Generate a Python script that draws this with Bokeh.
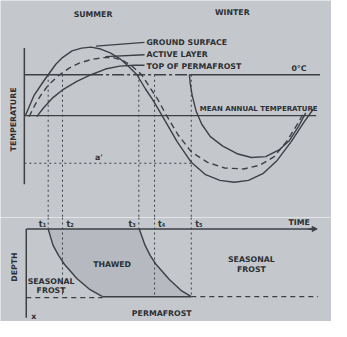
from bokeh.plotting import figure
from bokeh.layouts import column
from bokeh.models import Range1d, Arrow, NormalHead
from bokeh.core.properties import value
from bokeh.embed import file_html
from bokeh.resources import INLINE

# ---------------- data (time units, temperature units, depth units) ----------------
# ground surface temperature (solid)
gs_t = [0.1, 1.0, 1.8, 2.5, 3.3, 4.0, 5.0, 6.0, 7.0, 8.0, 9.0, 10.0, 10.8, 11.8, 12.7,
        13.5, 14.5, 16.0, 17.5, 19.0, 20.5, 22.0, 23.5, 25.0, 26.5, 28.0, 29.3, 30.3]
gs_T = [-4.3, -2.2, -1.0, 0.0, 1.1, 1.8, 2.5, 2.8, 2.9, 2.7, 2.3, 1.7, 1.0, 0.0, -1.5,
        -2.7, -4.4, -7.0, -9.2, -10.5, -11.1, -11.3, -11.1, -10.4, -9.0, -7.0, -5.0, -3.6]
# active layer temperature (dashed)
al_t = [0.5, 1.1, 1.7, 2.5, 3.7, 4.7, 5.7, 7.0, 8.3, 9.3, 10.3, 11.3, 12.3, 13.2, 14.0,
        14.8, 16.1, 17.5, 19.2, 21.0, 23.0, 24.7, 26.2, 27.5, 28.5, 29.3]
al_T = [-4.4, -3.2, -2.2, -1.1, 0.0, 0.7, 1.2, 1.6, 1.8, 1.8, 1.5, 0.9, 0.0, -1.4, -2.6,
        -4.1, -6.3, -8.1, -9.2, -9.8, -9.9, -9.5, -8.6, -7.0, -5.4, -4.0]
# top of permafrost: warming branch, zero curtain, cooling branch
tp_rise_t = [1.3, 2.0, 3.0, 4.0, 5.5, 7.0, 8.5, 10.0, 11.5, 12.6]
tp_rise_T = [-4.4, -3.5, -2.4, -1.6, -0.7, 0.0, 0.6, 0.9, 1.0, 1.0]
zero_curtain_t = [7.0, 17.3]
tp_fall_t = [17.3, 17.4, 17.6, 18.0, 18.6, 19.5, 20.8, 22.3, 23.8, 25.3, 26.7, 27.8, 28.7, 29.5]
tp_fall_T = [0.0, -1.0, -2.2, -3.8, -5.2, -6.5, -7.5, -8.3, -8.7, -8.6, -7.9, -6.9, -5.5, -4.0]

mean_annual_T = -4.3
min_marker_T = -9.3
event_t = [2.5, 4.0, 12.0, 13.65, 17.5]
event_labels = ["t\u2081", "t\u2082", "t\u2083", "t\u2084", "t\u2085"]
event_label_t = [1.9, 4.8, 11.3, 14.4, 18.3]
event_depth_end = [0.0, 7.1, 0.0, 7.1, 7.1]

# thaw (left) and refreeze (right) fronts in the depth panel
thaw_t = [2.5, 3.0, 3.6, 4.2, 5.5, 6.8, 8.2]
thaw_d = [0.0, 1.7, 2.8, 3.7, 5.2, 6.3, 7.1]
freeze_t = [12.05, 12.65, 13.2, 13.8, 15.2, 16.5, 17.5]
freeze_d = [0.0, 1.7, 2.8, 3.7, 5.3, 6.5, 7.1]
permafrost_table_d = 7.1

# ---------------- styles ----------------
BG = "#c4c8cd"
INK = "#3c3f44"
TXT = "#2c2f33"
FILL = "#b6bac0"
FONT = value("DejaVu Sans")
FS = "7.8px"
W = 331
H_TOP = 217
H_BOT = 104
XR = (-2.5, 32.2)


def base(h, yr):
    p = figure(width=W, height=h, x_range=Range1d(*XR), y_range=yr,
               toolbar_location=None, output_backend="svg", min_border=0,
               background_fill_color=BG, border_fill_color=BG, outline_line_color=None)
    p.axis.visible = False
    p.grid.visible = False
    return p


def label(p, x, y, txt, size=FS, align="left", base_="middle", angle=0.0):
    p.text(x=[x], y=[y], text=[txt], text_font=FONT, text_font_size=size,
           text_font_style="bold", text_color=TXT, text_align=align,
           text_baseline=base_, angle=angle)


# ---------------- temperature panel ----------------
top = base(H_TOP, Range1d(-15.0, 7.8))

# axis and reference lines
top.line([0, 0], [2.8, -11.5], line_color=INK, line_width=1.5)
top.line([0, 7.0], [0, 0], line_color=INK, line_width=1.5)
top.line(zero_curtain_t, [0, 0], line_color=INK, line_width=1.5, line_dash="12 3 3 3")
top.line([17.3, 31.0], [0, 0], line_color=INK, line_width=1.5)
top.line([0, 30.6], [mean_annual_T, mean_annual_T], line_color=INK, line_width=1.3)

# dotted construction lines
for t in event_t:
    top.line([t, t], [0, -15.0], line_color=INK, line_width=1, line_dash="2 3")
top.line([0, event_t[-1]], [min_marker_T, min_marker_T], line_color=INK, line_width=1,
         line_dash="2 3")

# curves
top.line(gs_t, gs_T, line_color=INK, line_width=1.4)
top.line(al_t, al_T, line_color=INK, line_width=1.4, line_dash="6 4")
top.line(tp_rise_t, tp_rise_T, line_color=INK, line_width=1.4)
top.line(tp_fall_t, tp_fall_T, line_color=INK, line_width=1.4)

# leaders
top.line([7.5, 12.6], [3.0, 3.4], line_color=INK, line_width=1.3)
top.line([8.5, 12.6], [1.9, 2.1], line_color=INK, line_width=1.3)

label(top, 12.8, 3.4, "GROUND SURFACE")
label(top, 12.8, 2.1, "ACTIVE LAYER")
label(top, 12.8, 0.9, "TOP OF PERMAFROST")
label(top, 28.0, 0.15, "0\u00b0C", base_="bottom")
label(top, 18.4, -3.65, "MEAN ANNUAL TEMPERATURE", size="7px")
label(top, 7.2, 6.3, "SUMMER", align="center")
label(top, 21.8, 6.5, "WINTER", align="center")
label(top, -1.1, -4.7, "TEMPERATURE", align="center", angle=1.5708)
label(top, 7.8, -8.7, "a'", align="center")

# ---------------- depth panel ----------------
bot = base(H_BOT, Range1d(9.7, -1.2))

poly_t = thaw_t + freeze_t[::-1]
poly_d = thaw_d + freeze_d[::-1]
bot.patch(poly_t, poly_d, fill_color=FILL, line_color=None)

for t, dend in zip(event_t, event_depth_end):
    bot.line([t, t], [-1.2, dend], line_color=INK, line_width=1, line_dash="2 3")

bot.line([0.2, 30.2], [0, 0], line_color=INK, line_width=1.5)
bot.add_layout(Arrow(end=NormalHead(size=5, fill_color=INK, line_color=INK),
                     x_start=29.8, y_start=0, x_end=30.7, y_end=0,
                     line_color=INK, line_width=1.5))
bot.line([0.2, 0.2], [0, 9.3], line_color=INK, line_width=1.5)

bot.line(thaw_t, thaw_d, line_color=INK, line_width=1.4)
bot.line(freeze_t, freeze_d, line_color=INK, line_width=1.4)
bot.line([thaw_t[-1], freeze_t[-1]], [permafrost_table_d, permafrost_table_d],
         line_color=INK, line_width=1.6)
bot.line([0.2, thaw_t[-1]], [permafrost_table_d + 0.1, permafrost_table_d + 0.1],
         line_color=INK, line_width=1.2, line_dash="5 4")
bot.line([freeze_t[-1], 30.8], [permafrost_table_d, permafrost_table_d],
         line_color=INK, line_width=1.2, line_dash="5 4")

for x, lab in zip(event_label_t, event_labels):
    label(bot, x, -0.45, lab, size="8px", align="center")

label(bot, 28.8, -0.7, "TIME", align="center")
label(bot, 9.2, 3.7, "THAWED", align="center")
label(bot, 2.8, 5.5, "SEASONAL", align="center")
label(bot, 2.8, 6.5, "FROST", align="center")
label(bot, 23.8, 3.2, "SEASONAL", align="center")
label(bot, 23.8, 4.2, "FROST", align="center")
label(bot, 14.4, 8.9, "PERMAFROST", align="center")
label(bot, -1.0, 4.0, "DEPTH", align="center", angle=1.5708)
label(bot, 1.0, 9.2, "x", align="center")

layout = column(top, bot, spacing=0)
open("out.html", "w").write(file_html(layout, INLINE))
